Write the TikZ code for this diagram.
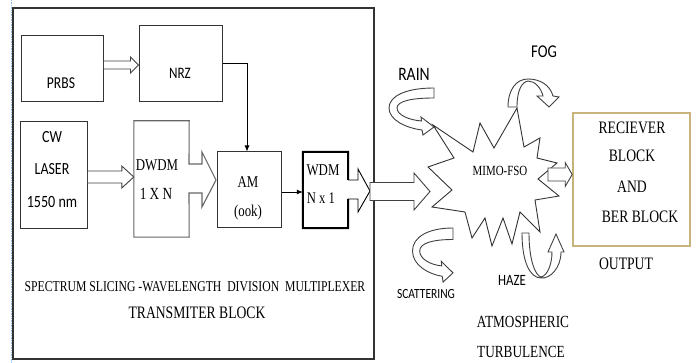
\documentclass[tikz,border=0pt]{standalone}
\usepackage{fontspec}
\setmainfont{Liberation Serif}[FakeStretch=0.78]
\newfontfamily\sansc{Carlito}[FakeStretch=0.82]
\usetikzlibrary{arrows.meta,calc}
\definecolor{rcvcol}{RGB}{200,180,122}
\definecolor{dotblue}{RGB}{150,190,235}
\newcommand\fs[1]{\fontsize{#1}{#1}\selectfont}
\newcommand\harrow[5]{\draw[blk] let \p1=#1, \p2=#2 in
  (\x1,\y1+#3pt) -- (\x2-#5pt,\y1+#3pt) -- (\x2-#5pt,\y1+#4pt) -- (\x2,\y1)
  -- (\x2-#5pt,\y1-#4pt) -- (\x2-#5pt,\y1-#3pt) -- (\x1,\y1-#3pt) -- cycle;}
\begin{document}
\begin{tikzpicture}[x=1pt,y=-1pt,
  box/.style={draw=black!80, line width=1pt, inner sep=0},
  blk/.style={draw=black!75, line width=0.9pt, fill=white},
  lbl/.style={inner sep=0, text=black},
  sl/.style={inner sep=0, text=black, font=\sansc},
  curvarr/.pic={\draw[blk] (0,0) .. controls (-28,0) and (-45,8) .. (-45,20)
     .. controls (-45,32) and (-28,40) .. (-12,42) -- (-11,47) -- (0,39) -- (-13,29) -- (-12.5,33)
     .. controls (-25,32) and (-37,27) .. (-37,20) .. controls (-37,13) and (-22,10) .. (0,10) -- cycle;}]
\useasboundingbox (0,0) rectangle (697,363);
\draw[dotblue, densely dotted, line width=0.7pt] (11,0) -- (11,363);
% boxes
\node[box, line width=1.2pt, minimum width=361, minimum height=351] (outer) at (193.5,183.5) {};
\node[box, minimum width=82, minimum height=66] (prbs) at (62,69) {};
\node[box, minimum width=83, minimum height=76] (nrz) at (180.5,64) {};
\node[box, minimum width=67, minimum height=107] (cw) at (53.5,175.5) {};
\node[inner sep=0, minimum width=55, minimum height=116] (dwdm) at (161.5,179) {};
\node[box, minimum width=64, minimum height=76] (am) at (249,190) {};
\node[inner sep=0, minimum width=45, minimum height=76] (wdm) at (325.5,190) {};
\node[draw=rcvcol, line width=1.6pt, inner sep=0, minimum width=117, minimum height=133] (rcv) at (631.5,179.5) {};
% DWDM outline
\draw[draw=black!60, line width=1.1pt] (dwdm.north west) -- (dwdm.north east) -- (189,164) -- (202,164) -- (202,152)
  -- (216,180) -- (202,207) -- (202,193) -- (189,193) -- (dwdm.south east) -- (dwdm.south west) -- cycle;
% WDM outline
\draw[line width=2pt] (348,180) -- (wdm.north east) -- (wdm.north west) -- (wdm.south west) -- (wdm.south east) -- (348,199);
\draw[line width=0.9pt] (348,180) -- (358,180) -- (358,169) -- (370,191) -- (358,212) -- (358,199) -- (348,199);
\coordinate (wdmtip) at (370,191.5);
% star
\draw[draw=black!80, line width=0.9pt, fill=white] (433,125) -- (473,152) -- (480,123) -- (494,148) -- (517,108)
  -- (524,147) -- (540,138) -- (537,158) -- (557,163) -- (538,179) -- (559,196) -- (535,200) -- (540,232)
  -- (520,212) -- (512,244) -- (503,218) -- (492,246) -- (485,218) -- (472,238) -- (465,212) -- (432,207)
  -- (452,190) -- (428,167) -- (454,158) -- cycle;
\coordinate (mimoin) at (430,191.5);
\coordinate (mimoout) at (548,174.5);
% connectors
\draw[line width=0.8pt, -{Latex[length=6pt,width=5pt]}] ([yshift=1pt]nrz.east) -| ([xshift=-2pt]am.north);
\draw[line width=0.8pt, -{Latex[length=6pt,width=5pt]}] ([yshift=-2pt]am.east) -- ([yshift=-2pt]wdm.west);
\harrow{([yshift=4pt]prbs.east)}{(nrz.west)}{4}{8}{8}
\harrow{([yshift=-1.5pt]cw.east)}{(dwdm.west)}{6}{11}{12}
\harrow{(wdmtip)}{(mimoin)}{9}{18.5}{16}
\harrow{(mimoout)}{(rcv.west)}{6.5}{12}{7}
% curved arrows
\pic (rainarr) at (434,88) {curvarr};
\pic[xscale=0.9, yscale=1.15] (scatarr) at (453,228) {curvarr};
\draw[blk] (508,107) -- (517,107) .. controls (517,90) and (522,82) .. (528,81) .. controls (535,81) and (541,88) .. (543,96)
  -- (537,96) -- (549,107) -- (559,97) -- (553,96) .. controls (550,85) and (540,79) .. (528,79)
  .. controls (516,79) and (508,90) .. (508,107) -- cycle;
\draw[blk] (522,233) -- (529,233) .. controls (529,262) and (536,276) .. (541,277) .. controls (547,276) and (552,265) .. (552,252)
  -- (548,252) -- (556,234) -- (564,252) -- (561,252) .. controls (561,268) and (550,279) .. (541,278)
  .. controls (530,278) and (522,262) .. (522,233) -- cycle;
% texts
\node[sl, font=\sansc\fs{16.6}] (prbst) at (61,83) {PRBS};
\node[sl, font=\sansc\fs{16}] (nrzt) at (180,73) {NRZ};
\node[sl, font=\sansc\fs{17}] (cwt) at (52,137) {CW};
\node[sl, font=\sansc\fs{17}] (lasert) at (52,169) {LASER};
\node[sl, font=\sansc\fs{17.2}] (nmt) at (52,202) {1550 nm};
\node[lbl, font=\fs{16.5}] (dwdmt) at (157,165) {DWDM};
\node[lbl, font=\fs{17}] (oxnt) at (156,194) {1 X N};
\node[lbl, font=\fs{16.5}] (amt) at (248,182) {AM};
\node[lbl, font=\fs{16.5}] (ookt) at (248,213) {(ook)};
\node[lbl, font=\fs{16.5}] (wdmt) at (323,170) {WDM};
\node[lbl, font=\fs{16.2}] (nxt) at (321,198) {N x 1};
\node[lbl, font=\fs{15}] (spect) at (195,287) {SPECTRUM SLICING -WAVELENGTH\ \ DIVISION\ \ MULTIPLEXER};
\node[lbl, font=\fs{17.5}] (transt) at (197,313) {TRANSMITER BLOCK};
\node[sl, font=\sansc\fs{19}] (raint) at (414,74) {RAIN};
\node[sl, font=\sansc\fs{18}] (fogt) at (544,52) {FOG};
\node[lbl, font=\fs{14}] (mimot) at (500,171) {MIMO-FSO};
\node[lbl, font=\fs{17.5}] (r1) at (632,128) {RECIEVER};
\node[lbl, font=\fs{17.5}] (r2) at (632,156) {BLOCK};
\node[lbl, font=\fs{17.5}] (r3) at (632,187) {AND};
\node[lbl, font=\fs{17.5}] (r4) at (640,217) {BER BLOCK};
\node[lbl, font=\fs{17.5}] (outt) at (626,264) {OUTPUT};
\node[sl, font=\sansc\fs{14}] (scatt) at (426,294) {SCATTERING};
\node[sl, font=\sansc\fs{15.7}] (hazet) at (512,280) {HAZE};
\node[lbl, font=\fs{17}] (atmt) at (523,322) {ATMOSPHERIC};
\node[lbl, font=\fs{17}] (turbt) at (521,352) {TURBULENCE};
\end{tikzpicture}
\end{document}
